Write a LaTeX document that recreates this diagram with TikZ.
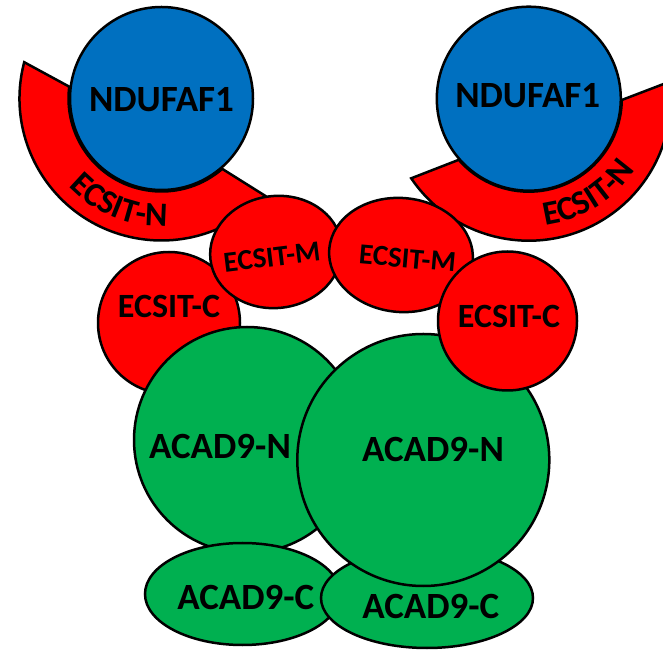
\documentclass[tikz,border=0pt]{standalone}
\usepackage{fontspec}
\setmainfont{Carlito}
\usetikzlibrary{calc,decorations.text}
\definecolor{ered}{RGB}{255,0,0}
\definecolor{nblue}{RGB}{0,112,192}
\definecolor{agreen}{RGB}{0,176,80}
\newcommand\bandfont{\bfseries\fontsize{34}{34}\selectfont}
\begin{document}
\begin{tikzpicture}[x=1pt,y=1pt,
  outl/.style={draw=black,line width=2.5pt},
  redshape/.style={outl,fill=ered},
  blueshape/.style={outl,fill=nblue},
  greenshape/.style={outl,fill=agreen},
  lab/.style={inner sep=0pt,text=black,font=\bfseries\fontsize{#1}{#1}\selectfont},
  lab/.default=37]
\useasboundingbox (0,0) rectangle (663,650);
\clip (0,0) rectangle (663,650);
\coordinate (NL) at (161.5,551.5);
\coordinate (NR) at (528.8,551.3);
% ECSIT-N bands
\filldraw[redshape] ($(NL)+(165.2:142pt)$) arc[start angle=165.2,end angle=316.8,radius=142pt]
  -- ($(NL)+(310.8:93pt)$) arc[start angle=310.8,end angle=172.7,radius=93pt] -- cycle;
\filldraw[redshape] ($(NR)+(214.1:142pt)$) arc[start angle=214.1,end angle=366.9,radius=142pt]
  -- ($(NR)+(359.2:93pt)$) arc[start angle=359.2,end angle=221.1,radius=93pt] -- cycle;
\path[decorate,decoration={text along path,text={|\bandfont|ECSIT-N},text align=center}]
  ($(NL)+(200:128pt)$) arc[start angle=200,end angle=296,radius=128pt];
\path[decorate,decoration={text along path,text={|\bandfont|ECSIT-N},text align=center}]
  ($(NR)+(254:128pt)$) arc[start angle=254,end angle=350,radius=128pt];
% NDUFAF1
\filldraw[blueshape] (NL) circle[radius=91.5pt];
\filldraw[blueshape] (NR) circle[radius=92pt];
\node[lab] (tNL) at (161.5,550.5) {NDUFAF1};
\node[lab] (tNR) at (527.7,554.2) {NDUFAF1};
% ECSIT-C left
\coordinate (CL) at (169,327);
\filldraw[redshape] (CL) circle[radius=71pt];
\node[lab=34] (tCL) at (169,344) {ECSIT-C};
% ECSIT-M
\coordinate (ML) at (276,398);
\filldraw[redshape,rotate around={7:(ML)}] (ML) ellipse[x radius=66pt,y radius=56pt];
\node[lab=29,rotate=7] (tML) at (272,393) {ECSIT-M};
\coordinate (MR) at (401,395);
\filldraw[redshape,rotate around={-5:(MR)}] (MR) ellipse[x radius=72pt,y radius=57pt];
\node[lab=29,rotate=-5] (tMR) at (407.5,391.5) {ECSIT-M};
% ACAD9-N left
\coordinate (AL) at (247,210);
\filldraw[greenshape] (AL) circle[radius=113pt];
\node[lab] (tAL) at (220,203.5) {ACAD9-N};
% ACAD9-C left
\coordinate (BL) at (242.5,56);
\filldraw[greenshape] (BL) ellipse[x radius=97.5pt,y radius=51pt];
\node[lab] (tBL) at (245.8,52.5) {ACAD9-C};
% ACAD9-C right
\coordinate (BR) at (427,52);
\filldraw[greenshape] (BR) ellipse[x radius=106pt,y radius=50pt];
\node[lab] (tBR) at (430.8,43.3) {ACAD9-C};
% ACAD9-N right
\coordinate (AR) at (423.3,190);
\filldraw[greenshape] (AR) circle[radius=126pt];
\node[lab] (tAR) at (433,201) {ACAD9-N};
% ECSIT-C right
\coordinate (CR) at (507.5,329);
\filldraw[redshape] (CR) circle[radius=69.5pt];
\node[lab=34] (tCR) at (509,334) {ECSIT-C};
\end{tikzpicture}
\end{document}
